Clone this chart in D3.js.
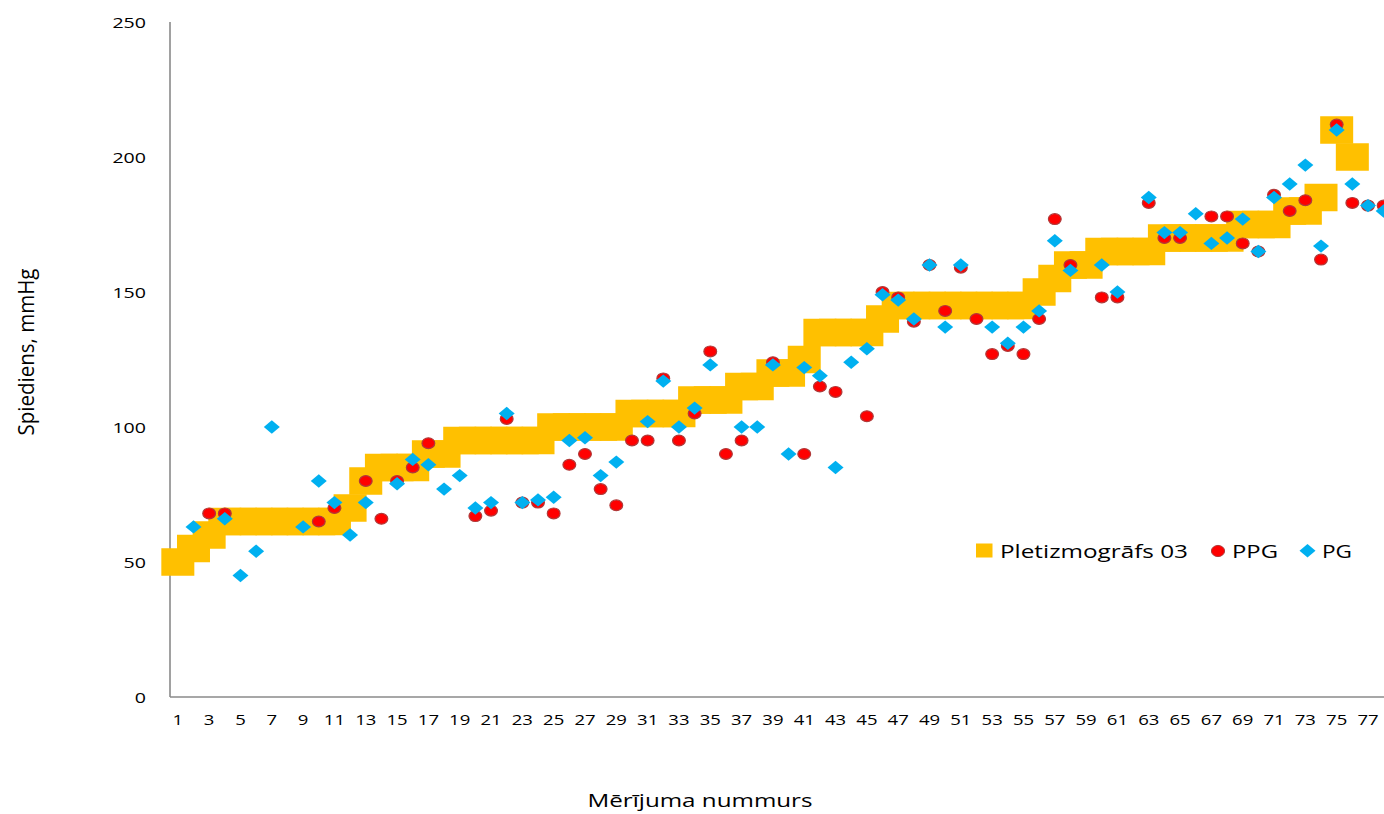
<!DOCTYPE html>
<html><head><meta charset="utf-8">
<script src="https://cdn.jsdelivr.net/npm/d3@7"></script>
<style>
html,body{margin:0;padding:0;background:#fff;overflow:hidden}
svg{display:block}
text{font-family:"Open Sans",sans-serif;fill:#000}
</style></head><body>
<svg id="chart" width="1384" height="814"></svg>
<script>
// ---- data ----
const categories = [1,2,3,4,5,6,7,8,9,10,11,12,13,14,15,16,17,18,19,20,21,22,23,24,25,26,27,28,29,30,31,32,33,34,35,36,37,38,39,40,41,42,43,44,45,46,47,48,49,50,51,52,53,54,55,56,57,58,59,60,61,62,63,64,65,66,67,68,69,70,71,72,73,74,75,76,77,78];
const pletizmografs = [50,55,60,65,65,65,65,65,65,65,65,70,80,85,85,85,90,90,95,95,95,95,95,95,100,100,100,100,100,105,105,105,105,110,110,110,115,115,120,120,125,135,135,135,135,140,145,145,145,145,145,145,145,145,145,150,155,160,160,165,165,165,165,170,170,170,170,170,175,175,175,180,180,185,210,200,null,null];
const ppg = [null,null,68,68,null,null,null,null,null,65,70,null,80,66,80,85,94,null,null,67,69,103,72,72,68,86,90,77,71,95,95,118,95,105,128,90,95,null,124,null,90,115,113,null,104,150,148,139,160,143,159,140,127,130,127,140,177,160,null,148,148,null,183,170,170,null,178,178,168,165,186,180,184,162,212,183,182,182];
const pg = [null,63,null,66,45,54,100,null,63,80,72,60,72,null,79,88,86,77,82,70,72,105,72,73,74,95,96,82,87,null,102,117,100,107,123,null,100,100,123,90,122,119,85,124,129,149,147,140,160,137,160,null,137,131,137,143,169,158,null,160,150,null,185,172,172,179,168,170,177,165,185,190,197,167,210,190,182,180];
const yTickValues = [0,50,100,150,200,250];
const xTickValues = categories.filter(c => c % 2 === 1);
const seriesNames = ["Pletizmogrāfs 03","PPG","PG"];
const xTitle = "Mērījuma nummurs";
const yTitle = "Spiediens, mmHg";

(function () {
// ---- layout / style ----
const plotLeft = 170, plotTop = 22, plotBottom = 697, band = 15.66;
const plotRight = plotLeft + categories.length * band;
const COL_Y = "#FFC000", COL_R = "#FF0000", COL_B = "#00B0F0", AXIS = "#8a8a8a";

const svg = d3.select("#chart");
const x = d3.scaleBand().domain(categories).range([plotLeft, plotRight]).padding(0);
const y = d3.scaleLinear().domain([0, 250]).range([plotBottom, plotTop]);
const cx = c => x(c) + x.bandwidth() / 2;

// axes
const gx = svg.append("g").attr("transform", `translate(0,${plotBottom})`)
  .call(d3.axisBottom(x).tickValues(xTickValues).tickSize(0));
gx.select(".domain").remove();
gx.selectAll("text").attr("y", 28).attr("dy", 0)
  .style("font-size", "15px").style("font-family", "'Open Sans',sans-serif").attr("fill", "#000")
  .attr("textLength", d => String(d).length * 10.6).attr("lengthAdjust", "spacingAndGlyphs");

const gy = svg.append("g").attr("transform", `translate(${plotLeft},0)`)
  .call(d3.axisLeft(y).tickValues(yTickValues).tickSize(0).tickPadding(24));
gy.select(".domain").remove();
gy.selectAll("text").attr("dy", "0.36em")
  .style("font-size", "15px").style("font-family", "'Open Sans',sans-serif").attr("fill", "#000")
  .attr("textLength", d => String(d).length * 11.2).attr("lengthAdjust", "spacingAndGlyphs");

svg.append("line").attr("x1", plotLeft).attr("x2", plotLeft).attr("y1", y(250)).attr("y2", y(0))
  .attr("stroke", AXIS).attr("stroke-width", 1.6);
svg.append("line").attr("x1", plotLeft).attr("x2", plotRight).attr("y1", y(0)).attr("y2", y(0))
  .attr("stroke", AXIS).attr("stroke-width", 1.6);

// series 1: square markers
const MW = 33, MH = 27.5;
svg.append("g").selectAll("rect")
  .data(categories.map((c, i) => ({c, v: pletizmografs[i]})).filter(d => d.v != null))
  .join("rect")
  .attr("x", d => cx(d.c) - MW / 2).attr("y", d => y(d.v) - MH / 2)
  .attr("width", MW).attr("height", MH).attr("fill", COL_Y);

// series 2: circles
svg.append("g").selectAll("ellipse")
  .data(categories.map((c, i) => ({c, v: ppg[i]})).filter(d => d.v != null))
  .join("ellipse")
  .attr("cx", d => cx(d.c)).attr("cy", d => y(d.v))
  .attr("rx", 6.4).attr("ry", 5.4)
  .attr("fill", COL_R).attr("stroke", "#b03a3a").attr("stroke-width", 1.2);

// series 3: diamonds
const diamond = "M0,-6.7L8,0L0,6.7L-8,0Z";
svg.append("g").selectAll("path")
  .data(categories.map((c, i) => ({c, v: pg[i]})).filter(d => d.v != null))
  .join("path")
  .attr("transform", d => `translate(${cx(d.c)},${y(d.v)})`)
  .attr("d", diamond).attr("fill", COL_B);

// titles
svg.append("text").attr("x", 700).attr("y", 807).attr("text-anchor", "middle")
  .style("font-size", "19px").attr("textLength", 225).attr("lengthAdjust", "spacingAndGlyphs")
  .text(xTitle);
svg.append("text").attr("transform", "translate(34,352) rotate(-90)").attr("text-anchor", "middle")
  .style("font-size", "21px").attr("textLength", 167).attr("lengthAdjust", "spacingAndGlyphs")
  .text(yTitle);

// legend
const lg = svg.append("g");
lg.append("rect").attr("x", 976).attr("y", 543.5).attr("width", 16.5).attr("height", 14).attr("fill", COL_Y);
lg.append("text").attr("x", 1000).attr("y", 558).style("font-size", "19px")
  .attr("textLength", 188).attr("lengthAdjust", "spacingAndGlyphs").text(seriesNames[0]);
lg.append("ellipse").attr("cx", 1218).attr("cy", 551).attr("rx", 6.6).attr("ry", 5.6)
  .attr("fill", COL_R).attr("stroke", "#b03a3a").attr("stroke-width", 1);
lg.append("text").attr("x", 1232).attr("y", 558).style("font-size", "19px")
  .attr("textLength", 46).attr("lengthAdjust", "spacingAndGlyphs").text(seriesNames[1]);
lg.append("path").attr("transform", "translate(1307.5,550.7)").attr("d", diamond).attr("fill", COL_B);
lg.append("text").attr("x", 1322).attr("y", 558).style("font-size", "19px")
  .attr("textLength", 30).attr("lengthAdjust", "spacingAndGlyphs").text(seriesNames[2]);
})();
</script>
</body></html>
